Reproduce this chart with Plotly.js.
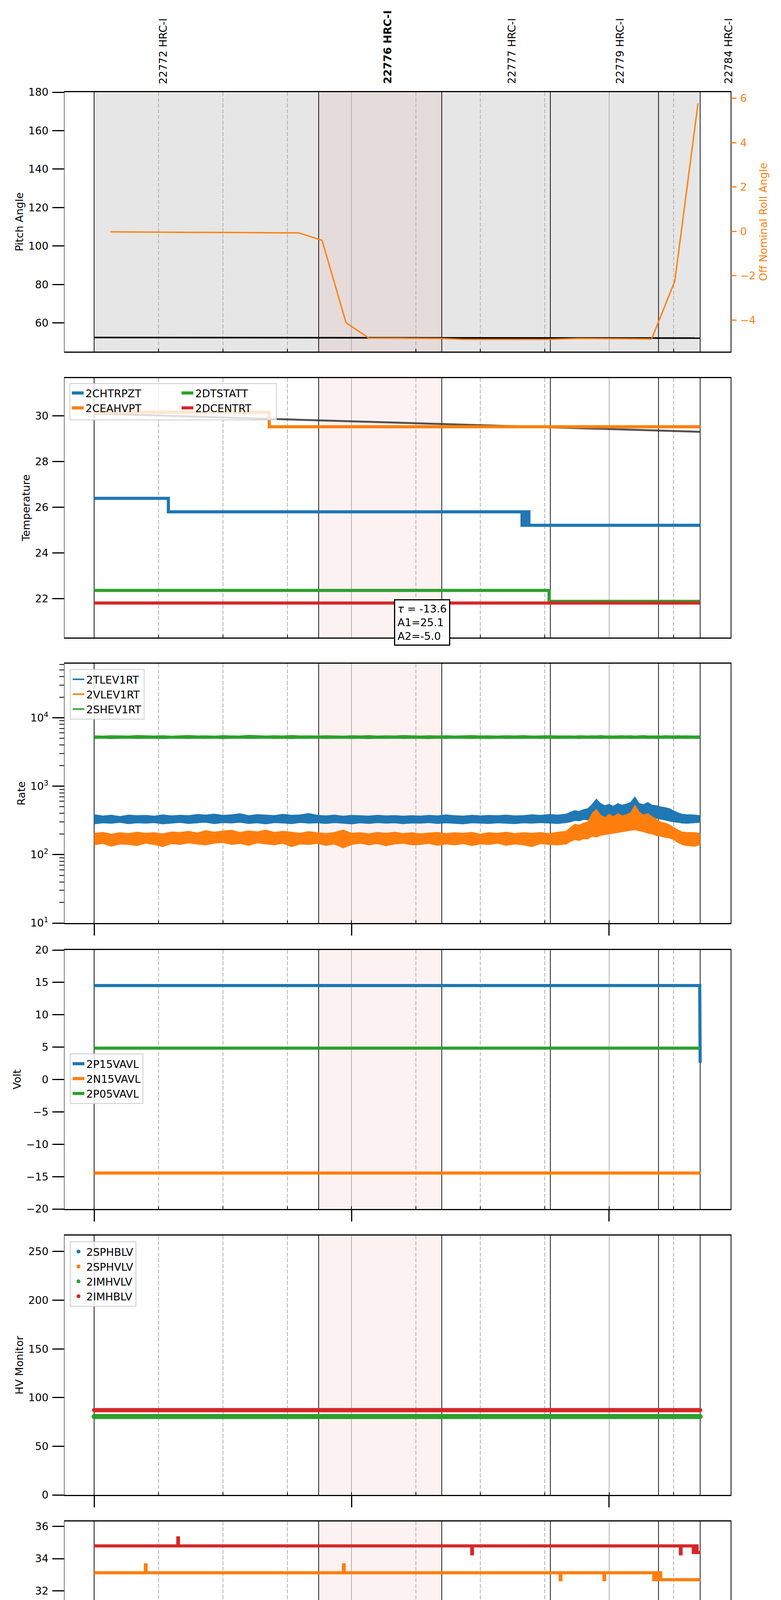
<!DOCTYPE html>
<html><head><meta charset="utf-8">
<script src="https://cdn.plot.ly/plotly-3.0.1.min.js"></script>
<style>body{margin:0;background:#fff}</style>
</head><body>
<div id="chart" style="width:2000px;height:5400px"></div>
<script>
// ================= DATA (time = minutes after 2020-03-23 22:00) =================
const obsBounds = [0, 52.33, 81.0, 106.3, 131.5, 141.2];
const obsLabels = ['22772 HRC-I', '22776 HRC-I', '22777 HRC-I', '22779 HRC-I', '22784 HRC-I'];
const obsLabelMin = [16.1, 68.3, 97.3, 122.5, 147.8];
const obsLabelBold = [false, true, false, false, false];
const shadeAll = [0, 141.2];
const shadeObs = [52.33, 81.0];

const pitchMin = [0, 30, 60, 90, 120, 141.2];
const pitchVal = [52.4, 52.3, 52.3, 52.2, 52.2, 52.1];
const rollMin = [3.8, 24.5, 47.7, 53.1, 58.7, 64.0, 81.0, 86.3, 105.4, 112.6, 129.9, 135.3, 140.7];
const rollVal = [-0.02, -0.04, -0.07, -0.40, -4.12, -4.81, -4.83, -4.87, -4.87, -4.83, -4.85, -2.24, 5.78];

const chtrpztMin = [0, 17.3, 99.7, 100.1, 100.5, 100.9, 101.3, 141.2];
const chtrpztVal = [26.39, 25.80, 25.21, 25.80, 25.21, 25.80, 25.21, 25.21];
const ceahvptMin = [0, 40.8, 141.2];
const ceahvptVal = [30.16, 29.52, 29.52];
const dtstattMin = [0, 106.0, 141.2];
const dtstattVal = [22.36, 21.88, 21.88];
const dcentrtMin = [0, 141.2];
const dcentrtVal = [21.81, 21.81];
const fitMin = [0, 141.2];
const fitVal = [30.10, 29.30];
const fitText = '<i>τ</i> = -13.6<br>A1=25.1<br>A2=-5.0';

const rateMin = [
  0,2,4,6,8,10,12,14,16,18,
  20,22,24,26,28,30,32,34,36,38,
  40,42,44,46,48,50,52,54,56,58,
  60,62,64,66,68,70,72,74,76,78,
  80,82,84,86,88,90,92,94,96,98,
  100,102,104,106,108,110,111,112,113,114,
  115,116,117,118,119,120,121,122,123,124,
  125,126,127,128,129,130,131,132,133,134,
  135,136,137,138,140,141.2];
const tlevHi = [
  385,368,378,362,380,372,376,366,382,370,
  378,372,388,380,392,376,384,398,372,386,
  380,374,390,378,382,400,378,370,380,366,
  376,372,368,378,370,374,366,372,368,376,
  370,382,372,368,378,370,376,372,380,370,
  374,384,376,388,380,392,420,440,430,455,
  470,540,650,560,520,545,510,560,530,550,
  580,700,560,540,580,530,520,500,490,470,
  440,410,390,385,380,372];
const tlevLo = [
  280,290,285,295,282,290,286,292,280,288,
  294,284,290,296,282,292,288,296,284,290,
  280,292,288,282,294,286,290,284,292,286,
  280,290,284,292,286,290,282,288,286,292,
  284,290,286,280,290,286,284,290,286,282,
  290,286,292,288,284,292,300,315,310,325,
  320,345,360,350,340,360,355,370,360,375,
  365,380,370,360,375,355,340,330,320,310,
  300,295,288,285,290,295];
const vlevHi = [
  205,212,200,210,204,214,206,210,202,215,
  212,220,208,225,214,222,228,212,224,216,
  230,212,220,214,206,218,210,204,212,230,
  206,210,202,212,206,214,204,210,202,208,
  212,204,210,206,212,200,210,206,214,204,
  210,206,212,204,214,220,250,280,270,290,
  300,400,460,380,350,390,360,400,370,385,
  410,530,420,380,400,360,330,300,290,275,
  250,230,215,212,210,205];
const vlevLo = [
  138,145,132,142,140,135,146,140,130,144,
  140,148,142,138,146,150,140,145,136,148,
  142,138,146,130,142,140,145,136,142,125,
  140,146,138,144,134,142,146,138,140,145,
  136,142,138,144,135,142,140,146,136,142,
  138,130,144,140,138,142,155,165,160,170,
  168,185,180,190,195,200,205,210,215,220,
  225,230,222,215,205,200,190,185,178,175,
  165,150,140,135,132,140];
const shevHi = [
  5480,5420,5500,5450,5430,5520,5460,5440,5490,5410,
  5470,5530,5450,5480,5420,5510,5460,5440,5560,5470,
  5430,5490,5450,5520,5460,5480,5440,5500,5470,5420,
  5490,5460,5510,5440,5480,5450,5530,5470,5430,5490,
  5460,5500,5440,5470,5520,5450,5480,5430,5490,5460,
  5510,5440,5470,5500,5450,5480,5460,5430,5500,5470,
  5440,5490,5460,5520,5450,5480,5430,5470,5500,5460,
  5490,5440,5470,5510,5450,5480,5460,5430,5490,5470,
  5450,5500,5460,5480,5440,5470];
const shevLo = [
  4950,4990,4930,4970,5000,4940,4980,4960,4920,4990,
  4960,4940,4980,4950,5000,4930,4970,4990,4950,4960,
  4990,4940,4970,4930,4980,4960,5000,4940,4970,4990,
  4950,4980,4930,4970,4960,4990,4940,4980,4960,4930,
  4980,4950,4990,4960,4940,4970,4930,4990,4950,4980,
  4960,4990,4940,4970,4950,4980,4960,4990,4930,4970,
  4980,4950,4970,4940,4990,4960,4980,4950,4970,4990,
  4940,4970,4960,4990,4950,4980,4940,4970,4960,4990,
  4950,4980,4960,4940,4970,4960];
const rateTickVals = [10, 100, 1000, 10000];
const rateTickText = ['10<sup>1</sup>', '10<sup>2</sup>', '10<sup>3</sup>', '10<sup>4</sup>'];
const rateMinorTicks = [20,30,40,50,60,70,80,90, 200,300,400,500,600,700,800,900,
  2000,3000,4000,5000,6000,7000,8000,9000, 20000,30000,40000,50000,60000];

const p15Min = [0, 141.1, 141.2];
const p15Val = [14.51, 14.51, 2.6];
const n15Min = [0, 141.2];
const n15Val = [-14.45, -14.45];
const p05Min = [0, 141.2];
const p05Val = [4.84, 4.84];

const imhblvMin = [0, 141.2];
const imhblvVal = [87.1, 87.1];
const imhvlvMin = [0, 141.2];
const imhvlvVal = [80.5, 80.5];

const spinatmMin = [0, 46.2, 46.4, 55.8, 56.0, 58.1, 58.3, 59.9, 60.3, 60.7, 61.1, 61.5, 61.9, 62.3, 62.7, 63.1, 63.5, 63.9, 64.5, 65.3, 65.5, 141.2];
const spinatmVal = [23.14, 22.41, 23.14, 22.41, 23.14, 22.41, 23.14, 22.41, 23.14, 22.41, 23.14, 22.41, 23.14, 22.41, 23.14, 22.41, 23.14, 22.41, 22.41, 23.14, 22.41, 22.41];
const sphvatmMin = [0, 11.96, 12.1, 58.1, 58.25, 108.6, 108.75, 118.8, 118.95, 130.4, 130.8, 131.2, 131.6, 132.0, 132.4, 141.2];
const sphvatmVal = [33.12, 33.61, 33.12, 33.61, 33.12, 32.69, 33.12, 32.69, 33.12, 32.69, 33.12, 32.69, 33.12, 32.69, 32.69, 32.69];
const iminatmMin = [0, 141.2];
const iminatmVal = [21.69, 21.69];
const imhvatmMin = [0, 19.5, 19.65, 88.0, 88.15, 136.6, 136.75, 139.6, 140.1, 140.5, 141.2];
const imhvatmVal = [34.79, 35.29, 34.79, 34.30, 34.79, 34.30, 34.79, 34.38, 34.79, 34.38, 34.38];

const fhtrmztMin = [0, 51.4, 75.0, 75.4, 76.5, 76.7, 136.4, 141.2];
const fhtrmztVal = [24.05, 23.49, 22.90, 23.49, 22.33, 23.49, 22.92, 22.92];
const fradpytMin = [0, 24.3, 118.7, 141.2];
const fradpytVal = [19.17, 18.66, 18.15, 18.15];
const fepratmMin = [0, 88.7, 89.05, 89.4, 89.75, 90.1, 90.4, 141.2];
const fepratmVal = [26.19, 25.41, 26.19, 25.41, 26.19, 25.41, 25.41, 25.41];
const fe00atmMin = [
  0, 4.2, 4.35, 8.8, 8.95, 10.1, 10.5, 10.9, 11.3, 11.7,
  12.1, 12.5, 12.9, 14.86, 15.0, 22.87, 23.0, 28.8, 28.95, 49.4,
  49.55, 50.8, 51.2, 51.6, 52.0, 52.4, 52.7, 53.5, 53.65, 63.25,
  63.4, 77.9, 78.05, 104.0, 104.3, 108.85, 109.0, 113.96, 114.1, 115.0,
  115.4, 115.8, 116.2, 116.6, 117.0, 117.4, 117.9, 119.06, 119.2, 121.7,
  121.85, 122.9, 123.05, 124.75, 124.9, 127.3, 127.45, 128.45, 128.6, 128.8,
  128.95, 129.3, 129.45, 141.2];
const fe00atmVal = [
  23.63, 23.30, 23.63, 23.30, 23.63, 23.30, 23.63, 23.30, 23.63, 23.30,
  23.63, 23.30, 23.30, 24.33, 23.30, 22.98, 23.30, 22.31, 23.30, 22.98,
  23.30, 22.98, 23.30, 22.98, 23.30, 22.98, 22.98, 23.30, 22.98, 23.30,
  22.98, 23.68, 22.98, 22.62, 22.98, 22.31, 22.98, 22.31, 22.98, 22.66,
  22.98, 22.66, 22.98, 22.66, 22.98, 22.66, 22.66, 22.98, 22.66, 22.98,
  22.66, 22.98, 22.66, 22.31, 22.66, 23.30, 22.66, 22.98, 22.66, 22.31,
  22.66, 22.31, 22.66, 22.66];

const hourTickMin = [0, 60, 120];
const hourTickText = ['22h', '23h', '00h'];
const quarterTickMin = [15, 30, 45, 75, 90, 105, 135];
const quarterTickText = ['15', '30', '45', '15', '30', '45', '15'];

// ================= helpers =================
const BASE = Date.UTC(2020, 2, 23, 22, 0, 0);
const tm = m => new Date(BASE + Math.round(m * 60000)).toISOString().replace('T', ' ').slice(0, 19);
const tms = arr => arr.map(tm);

const C = {blue: '#1f77b4', orange: '#ff7f0e', green: '#2ca02c', red: '#d62728'};
const PL = 165, PR = 1871, PT = 236, PB = 5291;
const py = p => (PB - p) / (PB - PT);
const pxx = p => (p - PL) / (PR - PL);
const panelPx = [[236, 900], [968, 1632], [1699, 2363], [2432, 3095], [3163, 3827], [3895, 4558], [4627, 5291]];
const xRange = [tm(-6.914), tm(148.3)];
const FONT = 'DejaVu Sans';

const yTitles = ['Pitch Angle', 'Temperature', 'Rate', 'Volt', 'HV Monitor', 'Detector Temp', 'FEA Temp'];
const yOpts = [
  {range: [45.07, 180], tick0: 0, dtick: 20},
  {range: [20.30, 31.65], tick0: 0, dtick: 2},
  {type: 'log', range: [1, 4.79], tickmode: 'array', tickvals: rateTickVals, ticktext: rateTickText},
  {range: [-20, 20], tick0: 0, dtick: 5},
  {range: [0, 266.4], tick0: 0, dtick: 50},
  {range: [20.19, 36.31], tick0: 0, dtick: 2},
  {range: [17.15, 27.69], tick0: 0, dtick: 2}
];

const traces = [];
function line(i, xs, ys, color, width, name, legend, extra) {
  const ax = i === 1 ? '' : i;
  traces.push(Object.assign({
    type: 'scatter', mode: 'lines', x: tms(xs), y: ys, name: name,
    xaxis: 'x' + ax, yaxis: 'y' + ax, line: {color: color, width: width},
    showlegend: !!legend, legend: legend || 'legend', hoverinfo: 'skip'
  }, extra || {}));
}
function proxy(i, color, name, legend, mode, size, yax) {
  const ax = i === 1 ? '' : i;
  const t = {type: 'scatter', mode: mode, x: [null], y: [null], name: name,
    xaxis: 'x' + ax, yaxis: yax || ('y' + ax), legend: legend, showlegend: true, hoverinfo: 'skip'};
  if (mode === 'markers') t.marker = {color: color, size: size};
  else t.line = {color: color, width: size};
  traces.push(t);
}
function obsLines(i) {
  const ax = i === 1 ? '' : i;
  const r = yOpts[i - 1].range;
  const lo = yOpts[i - 1].type === 'log' ? Math.pow(10, r[0]) : r[0];
  const hi = yOpts[i - 1].type === 'log' ? Math.pow(10, r[1]) : r[1];
  const xs = [], ys = [];
  obsBounds.forEach(b => { xs.push(tm(b), tm(b), null); ys.push(lo, hi, null); });
  traces.push({type: 'scatter', mode: 'lines', x: xs, y: ys, xaxis: 'x' + ax, yaxis: 'y' + ax,
    line: {color: 'black', width: 1.8}, showlegend: false, hoverinfo: 'skip', connectgaps: false});
}

obsLines(1);
line(1, pitchMin, pitchVal, 'black', 4, 'pitch', null);
line(1, rollMin, rollVal, C.orange, 3.5, 'roll', null, {yaxis: 'y8'});

obsLines(2);
line(2, fitMin, fitVal, 'rgba(40,40,40,0.8)', 5, 'fit', null);
line(2, chtrpztMin, chtrpztVal, C.blue, 8, '2CHTRPZT', 'legend', {line: {color: C.blue, width: 8, shape: 'hv'}});
line(2, ceahvptMin, ceahvptVal, C.orange, 8, '2CEAHVPT', 'legend', {line: {color: C.orange, width: 8, shape: 'hv'}});
line(2, dtstattMin, dtstattVal, C.green, 8, '2DTSTATT', 'legend2', {line: {color: C.green, width: 8, shape: 'hv'}});
line(2, dcentrtMin, dcentrtVal, C.red, 8, '2DCENTRT', 'legend2', {line: {color: C.red, width: 8, shape: 'hv'}});

obsLines(3);
[[tlevHi, tlevLo, C.blue], [vlevHi, vlevLo, C.orange], [shevHi, shevLo, C.green]].forEach(([hi, lo, col]) => {
  line(3, rateMin, hi, col, 1.5, '', null);
  line(3, rateMin, lo, col, 1.5, '', null, {fill: 'tonexty', fillcolor: col});
});
proxy(3, C.blue, '2TLEV1RT', 'legend3', 'lines', 4, 'y9');
proxy(3, C.orange, '2VLEV1RT', 'legend3', 'lines', 4, 'y9');
proxy(3, C.green, '2SHEV1RT', 'legend3', 'lines', 4, 'y9');

obsLines(4);
line(4, p15Min, p15Val, C.blue, 8, '2P15VAVL', 'legend4');
line(4, n15Min, n15Val, C.orange, 8, '2N15VAVL', 'legend4');
line(4, p05Min, p05Val, C.green, 8, '2P05VAVL', 'legend4');

obsLines(5);
line(5, imhvlvMin, imhvlvVal, C.green, 13, '', null, {mode: 'lines+markers', marker: {size: 13, color: C.green}});
line(5, imhblvMin, imhblvVal, C.red, 11, '', null, {mode: 'lines+markers', marker: {size: 11, color: C.red}});
proxy(5, C.blue, '2SPHBLV', 'legend5', 'markers', 10);
proxy(5, C.orange, '2SPHVLV', 'legend5', 'markers', 10);
proxy(5, C.green, '2IMHVLV', 'legend5', 'markers', 10);
proxy(5, C.red, '2IMHBLV', 'legend5', 'markers', 10);

obsLines(6);
line(6, spinatmMin, spinatmVal, C.blue, 8, '2SPINATM', 'legend6', {line: {color: C.blue, width: 8, shape: 'hv'}});
line(6, sphvatmMin, sphvatmVal, C.orange, 8, '2SPHVATM', 'legend6', {line: {color: C.orange, width: 8, shape: 'hv'}});
line(6, iminatmMin, iminatmVal, C.green, 8, '2IMINATM', 'legend6', {line: {color: C.green, width: 8, shape: 'hv'}});
line(6, imhvatmMin, imhvatmVal, C.red, 8, '2IMHVATM', 'legend6', {line: {color: C.red, width: 8, shape: 'hv'}});

obsLines(7);
line(7, fhtrmztMin, fhtrmztVal, C.blue, 8, '2FHTRMZT', 'legend7', {line: {color: C.blue, width: 8, shape: 'hv'}});
line(7, fradpytMin, fradpytVal, C.orange, 8, '2FRADPYT', 'legend7', {line: {color: C.orange, width: 8, shape: 'hv'}});
line(7, fepratmMin, fepratmVal, C.green, 8, '2FEPRATM', 'legend7', {line: {color: C.green, width: 8, shape: 'hv'}});
line(7, fe00atmMin, fe00atmVal, C.red, 8, '2FE00ATM', 'legend7', {line: {color: C.red, width: 8, shape: 'hv'}, xaxis: 'x8'});

// ================= layout =================
const layout = {
  width: 2000, height: 5400,
  margin: {l: PL, r: 2000 - PR, t: PT, b: 5400 - PB, pad: 0},
  paper_bgcolor: 'white', plot_bgcolor: 'white',
  font: {family: FONT, size: 27, color: 'black'},
  shapes: [], annotations: []
};

for (let i = 1; i <= 7; i++) {
  const ax = i === 1 ? '' : i;
  const [top, bot] = panelPx[i - 1];
  const dom = [py(bot), py(top)];
  layout['xaxis' + ax] = {
    domain: [0, 1], anchor: 'y' + ax, type: 'date', range: xRange,
    showline: true, linecolor: 'black', linewidth: 3, mirror: true,
    tickmode: 'linear', tick0: tm(0), dtick: 3600000,
    ticks: i >= 3 ? 'outside' : '', ticklen: 29, tickwidth: 3, tickcolor: 'black',
    showticklabels: false,
    showgrid: true, gridcolor: '#b0b0b0', gridwidth: 2,
    minor: {tickmode: 'linear', tick0: tm(0), dtick: 900000, ticks: 'inside', ticklen: 7, tickwidth: 2,
            tickcolor: 'black', showgrid: true, gridcolor: '#b0b0b0', gridwidth: 2, griddash: '10px,4.5px'},
    zeroline: false, fixedrange: true
  };
  layout['yaxis' + ax] = Object.assign({
    domain: dom, anchor: 'x' + ax,
    showline: true, linecolor: 'black', linewidth: 1.5, mirror: true,
    ticks: 'outside', ticklen: 30, tickwidth: 3, tickcolor: 'black',
    tickfont: {size: 27}, showgrid: false, zeroline: false, ticklabelstandoff: 4,
    title: {text: yTitles[i - 1], font: {size: 27}, standoff: 5}, fixedrange: true
  }, yOpts[i - 1]);

  if (i === 1) layout.shapes.push({type: 'rect', xref: 'x', yref: 'y domain', x0: tm(shadeAll[0]), x1: tm(shadeAll[1]), y0: 0, y1: 1,
    fillcolor: 'rgba(128,128,128,0.2)', line: {width: 0}, layer: 'below'});
  layout.shapes.push({type: 'rect', xref: 'x' + ax, yref: 'y' + ax + ' domain', x0: tm(shadeObs[0]), x1: tm(shadeObs[1]), y0: 0, y1: 1,
    fillcolor: 'rgba(240,128,128,0.1)', line: {width: 0}, layer: 'below'});
}

Object.assign(layout.xaxis7, {
  tickmode: 'array', tickvals: tms(hourTickMin), ticktext: hourTickText, showticklabels: true,
  tickfont: {size: 28}, title: {text: '2020-03-23 (083)', font: {size: 36}, standoff: 8}
});
layout.xaxis7.minor.tickmode = 'linear';
layout.xaxis8 = {overlaying: 'x7', anchor: 'y7', type: 'date', range: xRange, side: 'bottom',
  tickmode: 'array', tickvals: tms(quarterTickMin), ticktext: quarterTickText, tickfont: {size: 19},
  ticks: '', showgrid: false, showline: false, zeroline: false, fixedrange: true};

layout.yaxis8 = {overlaying: 'y', anchor: 'x', side: 'right', range: [-5.42, 6.28], tick0: 0, dtick: 2,
  ticks: 'outside', ticklen: 14, tickwidth: 3, tickcolor: C.orange, tickfont: {size: 27, color: C.orange},
  showline: false, showgrid: false, zeroline: false, ticklabelstandoff: 4,
  title: {text: 'Off Nominal Roll Angle', font: {size: 27, color: C.orange}, standoff: 10}, fixedrange: true};
layout.yaxis9 = {overlaying: 'y3', anchor: 'x3', side: 'left', type: 'log', range: [1, 4.79],
  tickmode: 'array', tickvals: rateMinorTicks, ticks: 'outside', ticklen: 12, tickwidth: 2, tickcolor: 'black',
  showticklabels: false, showline: false, showgrid: false, zeroline: false, fixedrange: true};

obsLabels.forEach((t, k) => layout.annotations.push({
  xref: 'x', yref: 'paper', x: tm(obsLabelMin[k]), y: py(217), textangle: -90,
  xanchor: 'center', yanchor: 'bottom', showarrow: false,
  text: obsLabelBold[k] ? '<b>' + t + '</b>' : t, font: {size: 27}
}));
layout.annotations.push({xref: 'x2', yref: 'paper', x: tm(76.4), y: py(1534), xanchor: 'center', yanchor: 'top',
  showarrow: false, text: fitText, align: 'left', bgcolor: 'white', bordercolor: 'black', borderwidth: 3, borderpad: 6,
  font: {size: 27}});

const legBase = {xref: 'paper', yref: 'paper', xanchor: 'left', yanchor: 'top', bgcolor: 'rgba(255,255,255,0.8)',
  bordercolor: '#cccccc', borderwidth: 2, font: {size: 27, family: FONT}, orientation: 'v', traceorder: 'normal'};
const lx = pxx(179);
layout.legend = Object.assign({}, legBase, {x: lx, y: py(982), bgcolor: 'rgba(0,0,0,0)', borderwidth: 0});
layout.legend2 = Object.assign({}, legBase, {x: lx + pxx(468) - pxx(187), y: py(982), bgcolor: 'rgba(0,0,0,0)', borderwidth: 0});
layout.shapes.push({type: 'rect', xref: 'paper', yref: 'paper', x0: lx, x1: pxx(708), y0: py(1075), y1: py(982),
  fillcolor: 'rgba(255,255,255,0.8)', line: {color: '#cccccc', width: 2}, layer: 'above'});
layout.legend3 = Object.assign({}, legBase, {x: lx, y: py(1713)});
layout.legend4 = Object.assign({}, legBase, {x: lx, y: py(2697)});
layout.legend5 = Object.assign({}, legBase, {x: lx, y: py(3178)});
layout.legend6 = Object.assign({}, legBase, {x: lx, y: py(4140)});
layout.legend7 = Object.assign({}, legBase, {x: lx, y: py(5101)});

Plotly.newPlot('chart', traces, layout, {staticPlot: true});
</script>
</body></html>
